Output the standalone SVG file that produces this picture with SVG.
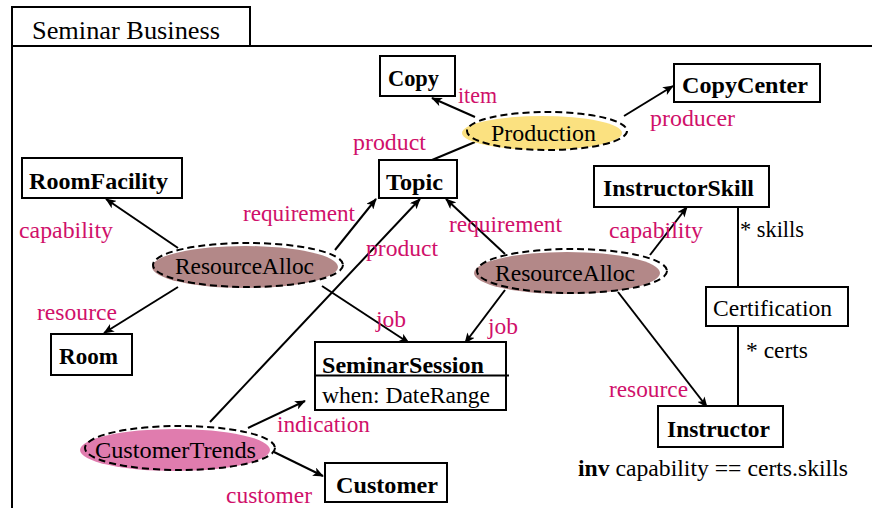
<svg xmlns="http://www.w3.org/2000/svg" width="872" height="508" viewBox="0 0 872 508">
  <defs>
    <marker id="arrow" viewBox="0 0 12 10" refX="11" refY="5" markerWidth="11" markerHeight="9" markerUnits="userSpaceOnUse" orient="auto">
      <path d="M0,0 L12,5 L0,10 L3,5 Z" fill="#000"/>
    </marker>
  </defs>
  <style>
    text { font-family: "Liberation Serif", "Times New Roman", serif; font-size: 23.5px; fill: #000; }
    .cls { font-weight: bold; font-size: 23px; }
    .role { fill: #d0106a; }
    .box { fill: #fff; stroke: #000; stroke-width: 2; }
    .frame { fill: none; stroke: #000; stroke-width: 2; }
    .dash { fill: none; stroke: #000; stroke-width: 2; stroke-dasharray: 7 4; }
    .edge { fill: none; stroke: #000; stroke-width: 2; }
    .arr { marker-end: url(#arrow); }
  </style>

  <rect width="872" height="508" fill="#fff"/>

  <!-- package frame -->
  <g id="package">
    <rect class="frame" x="12" y="7" width="238" height="39"/>
    <path class="frame" d="M12,46 L872,46 M12,46 L12,508"/>
    <text x="32" y="39" style="font-size:25px" textLength="188" lengthAdjust="spacingAndGlyphs">Seminar Business</text>
  </g>

  <!-- connectors -->
  <g id="connectors">
    <path class="edge arr" d="M475,117 L432,98"/>
    <path class="edge arr" d="M624,116 L673,86"/>
    <path class="edge" d="M475,142 L432,160"/>
    <path class="edge arr" d="M178,248 L106,199"/>
    <path class="edge arr" d="M178,287 L104,333"/>
    <path class="edge arr" d="M335,250 L376,199"/>
    <path class="edge arr" d="M322,286 L409,343"/>
    <path class="edge arr" d="M210,422 L420,199"/>
    <path class="edge arr" d="M248,428 L305,401"/>
    <path class="edge arr" d="M274,452 L323,476"/>
    <path class="edge arr" d="M505,254 L446,199"/>
    <path class="edge arr" d="M505,290 L465,343"/>
    <path class="edge arr" d="M650,255 L687,207"/>
    <path class="edge arr" d="M618,292 L707,407"/>
    <path class="edge" d="M738,207 L738,287 M738,326 L738,406"/>
    <text class="role" x="458" y="103" textLength="39" lengthAdjust="spacingAndGlyphs">item</text>
    <text class="role" x="650" y="126" textLength="85" lengthAdjust="spacingAndGlyphs">producer</text>
    <text class="role" x="353" y="150" textLength="73" lengthAdjust="spacingAndGlyphs">product</text>
    <text class="role" x="19" y="238" textLength="94" lengthAdjust="spacingAndGlyphs">capability</text>
    <text class="role" x="37" y="320" textLength="80" lengthAdjust="spacingAndGlyphs">resource</text>
    <text class="role" x="243" y="221" textLength="112" lengthAdjust="spacingAndGlyphs">requirement</text>
    <text class="role" x="376" y="327" textLength="30" lengthAdjust="spacingAndGlyphs">job</text>
    <text class="role" x="366" y="256" textLength="72" lengthAdjust="spacingAndGlyphs">product</text>
    <text class="role" x="277" y="432" textLength="93" lengthAdjust="spacingAndGlyphs">indication</text>
    <text class="role" x="226" y="503" textLength="86" lengthAdjust="spacingAndGlyphs">customer</text>
    <text class="role" x="449" y="232" textLength="113" lengthAdjust="spacingAndGlyphs">requirement</text>
    <text class="role" x="488" y="334" textLength="30" lengthAdjust="spacingAndGlyphs">job</text>
    <text class="role" x="609" y="238" textLength="94" lengthAdjust="spacingAndGlyphs">capability</text>
    <text class="role" x="609" y="397" textLength="79" lengthAdjust="spacingAndGlyphs">resource</text>
    <text x="740" y="237" textLength="64" lengthAdjust="spacingAndGlyphs">* skills</text>
    <text x="746" y="358" textLength="62" lengthAdjust="spacingAndGlyphs">* certs</text>
  </g>

  <!-- classes -->
  <g id="copy">
    <rect class="box" x="380" y="56" width="75" height="40"/>
    <text class="cls" x="388" y="86" textLength="51" lengthAdjust="spacingAndGlyphs">Copy</text>
  </g>
  <g id="copycenter">
    <rect class="box" x="674" y="64" width="146" height="38"/>
    <text class="cls" x="682" y="93" textLength="126" lengthAdjust="spacingAndGlyphs">CopyCenter</text>
  </g>
  <g id="topic">
    <rect class="box" x="379" y="160" width="78" height="38"/>
    <text class="cls" x="386" y="190" textLength="57" lengthAdjust="spacingAndGlyphs">Topic</text>
  </g>
  <g id="roomfacility">
    <rect class="box" x="22" y="158" width="160" height="40"/>
    <text class="cls" x="29" y="189" textLength="139" lengthAdjust="spacingAndGlyphs">RoomFacility</text>
  </g>
  <g id="instructorskill">
    <rect class="box" x="594" y="166" width="175" height="41"/>
    <text class="cls" x="603" y="196" textLength="151" lengthAdjust="spacingAndGlyphs">InstructorSkill</text>
  </g>
  <g id="certification">
    <rect class="box" x="706" y="287" width="142" height="39"/>
    <text x="713" y="316" textLength="119" lengthAdjust="spacingAndGlyphs">Certification</text>
  </g>
  <g id="room">
    <rect class="box" x="51" y="334" width="81" height="41"/>
    <text class="cls" x="59" y="364" textLength="59" lengthAdjust="spacingAndGlyphs">Room</text>
  </g>
  <g id="seminarsession">
    <rect class="box" x="315" y="342" width="191" height="68"/>
    <text class="cls" x="322" y="373" textLength="162" lengthAdjust="spacingAndGlyphs">SeminarSession</text>
    <path class="edge" d="M315,375.5 L509,375.5"/>
    <text x="322" y="403" textLength="168" lengthAdjust="spacingAndGlyphs">when: DateRange</text>
  </g>
  <g id="instructor">
    <rect class="box" x="658" y="406" width="125" height="41"/>
    <text class="cls" x="667" y="437" textLength="103" lengthAdjust="spacingAndGlyphs">Instructor</text>
  </g>
  <g id="customer">
    <rect class="box" x="325" y="463" width="122" height="39"/>
    <text class="cls" x="336" y="493" textLength="102" lengthAdjust="spacingAndGlyphs">Customer</text>
  </g>

  <!-- collaborations -->
  <g id="production">
    <ellipse cx="542" cy="133" rx="80" ry="17" fill="#fbe180"/>
    <ellipse class="dash" cx="547" cy="131" rx="80" ry="19"/>
    <text x="491" y="141" textLength="105" lengthAdjust="spacingAndGlyphs">Production</text>
  </g>
  <g id="resourcealloc-room">
    <ellipse cx="245" cy="267" rx="93" ry="21" fill="#b38888"/>
    <ellipse class="dash" cx="248" cy="265" rx="95" ry="22"/>
    <text x="175" y="274" textLength="139" lengthAdjust="spacingAndGlyphs">ResourceAlloc</text>
  </g>
  <g id="resourcealloc-instructor">
    <ellipse cx="567" cy="273" rx="93" ry="21" fill="#b38888"/>
    <ellipse class="dash" cx="572" cy="271" rx="95" ry="22"/>
    <text x="495" y="281" textLength="140" lengthAdjust="spacingAndGlyphs">ResourceAlloc</text>
  </g>
  <g id="customertrends">
    <ellipse cx="175" cy="450" rx="95" ry="21" fill="#e07cae"/>
    <ellipse class="dash" cx="180" cy="448" rx="95" ry="22"/>
    <text x="95" y="458" textLength="161" lengthAdjust="spacingAndGlyphs">CustomerTrends</text>
  </g>

  <text x="578" y="476" textLength="270" lengthAdjust="spacingAndGlyphs"><tspan font-weight="bold">inv</tspan> capability == certs.skills</text>
</svg>
